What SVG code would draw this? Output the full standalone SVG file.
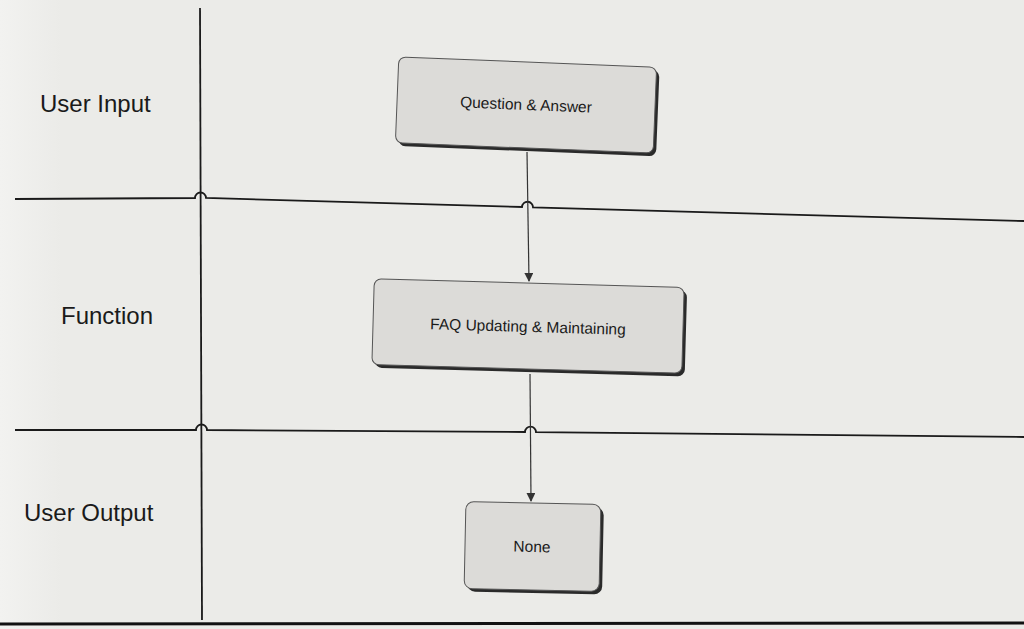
<svg xmlns="http://www.w3.org/2000/svg" width="1024" height="629" viewBox="0 0 1024 629">
  <defs>
    <style>
      .lane { fill: none; stroke: #1a1a1a; stroke-width: 1.8; }
      .conn { fill: none; stroke: #333; stroke-width: 1.2; }
      .box { fill: #dcdbd8; stroke: #555; stroke-width: 1; }
      .shadow { fill: #2a2a2a; }
      .lbl { font-family: "Liberation Sans", Arial, sans-serif; font-size: 24px; fill: #1a1a1a; }
      .txt { font-family: "Liberation Sans", Arial, sans-serif; font-size: 15.5px; fill: #1a1a1a; text-anchor: middle; }
    </style>
    <linearGradient id="bg" x1="0" y1="0" x2="1" y2="0">
      <stop offset="0" stop-color="#f2f2f0"/>
      <stop offset="0.06" stop-color="#ebebe8"/>
      <stop offset="1" stop-color="#ebebe8"/>
    </linearGradient>
    <marker id="arr" viewBox="0 0 10 10" refX="9" refY="5" markerWidth="9" markerHeight="9" markerUnits="userSpaceOnUse" orient="auto">
      <path d="M0,0 L10,5 L0,10 Z" fill="#333"/>
    </marker>
  </defs>
  <rect x="0" y="0" width="1024" height="629" fill="url(#bg)"/>

  <g id="lanes">
    <path class="lane" d="M200,8 L202,620"/>
    <path class="lane" d="M15,199 L195,198 A5.5,5.5 0 0 1 206,198 L522,207 A5.5,5.5 0 0 1 533,207.5 L1024,221"/>
    <path class="lane" d="M15,430 L196,430 A5.5,5.5 0 0 1 207,430 L525,432 A5.5,5.5 0 0 1 536,432.2 L1024,437"/>
    <path d="M0,624 L1024,623" stroke="#111" stroke-width="3" fill="none"/>
  </g>

  <g id="labels">
    <text class="lbl" x="40" y="112">User Input</text>
    <text class="lbl" x="61" y="324">Function</text>
    <text class="lbl" x="24" y="521">User Output</text>
  </g>

  <g id="connectors">
    <path class="conn" d="M527,152 L529,281" marker-end="url(#arr)"/>
    <path class="conn" d="M530,374 L531,501" marker-end="url(#arr)"/>
  </g>

  <g id="node-qa" transform="rotate(2.3 526 105)">
    <rect class="shadow" x="400" y="65" width="258" height="86" rx="7"/>
    <rect class="box" x="397" y="62" width="258" height="86" rx="7"/>
    <text class="txt" x="526" y="110">Question &amp; Answer</text>
  </g>

  <g id="node-faq" transform="rotate(1.6 528 327)">
    <rect class="shadow" x="376" y="286" width="310" height="86" rx="7"/>
    <rect class="box" x="373" y="283" width="310" height="86" rx="7"/>
    <text class="txt" x="528" y="332">FAQ Updating &amp; Maintaining</text>
  </g>

  <g id="node-none" transform="rotate(1.2 533 547)">
    <rect class="shadow" x="468" y="506" width="135" height="87" rx="8"/>
    <rect class="box" x="465" y="503" width="135" height="87" rx="8"/>
    <text class="txt" x="532" y="552">None</text>
  </g>
</svg>
